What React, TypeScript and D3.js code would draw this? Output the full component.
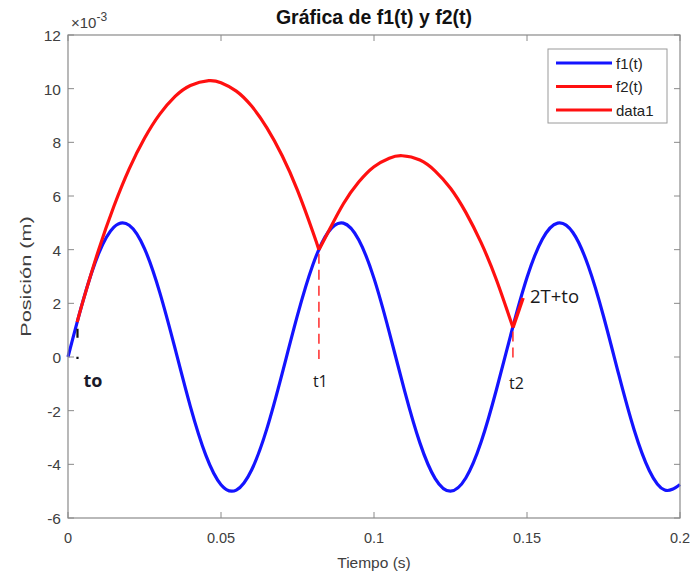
import React from 'react'
import * as d3 from 'd3'

// values in units of 1e-3 m
const f1T = [0, 0.005, 0.01, 0.015, 0.02, 0.025, 0.03, 0.035, 0.04, 0.045, 0.05, 0.055, 0.06, 0.065, 0.07,
  0.075, 0.08, 0.085, 0.09, 0.095, 0.1, 0.105, 0.11, 0.115, 0.12, 0.125, 0.13, 0.135, 0.14, 0.145, 0.15,
  0.155, 0.16, 0.165, 0.17, 0.175, 0.18, 0.185, 0.19, 0.195, 0.2]
const f1Y = [0, 2.13, 3.85, 4.84, 4.91, 4.04, 2.4, 0.31, -1.85, -3.65, -4.76, -4.96, -4.21, -2.67, -0.61,
  1.56, 3.43, 4.65, 4.99, 4.37, 2.93, 0.92, -1.26, -3.2, -4.53, -5.0, -4.51, -3.17, -1.22, 0.96, 2.96,
  4.39, 4.99, 4.64, 3.4, 1.52, -0.66, -2.71, -4.24, -4.96, -4.75]

const f2T = [0.003, 0.005, 0.01, 0.015, 0.02, 0.025, 0.03, 0.035, 0.04, 0.046, 0.05, 0.055, 0.06, 0.065, 0.07, 0.075, 0.08, 0.082,
  0.085, 0.09, 0.095, 0.1, 0.105, 0.1092, 0.115, 0.12, 0.125, 0.13, 0.135, 0.14, 0.1454]
const f2Y = [1.3, 2.12, 3.99, 5.62, 7.01, 8.15, 9.05, 9.71, 10.12, 10.3, 10.22, 9.91, 9.35, 8.54, 7.5, 6.21, 4.67, 4.0,
  4.65, 5.71, 6.52, 7.09, 7.41, 7.5, 7.34, 6.93, 6.29, 5.39, 4.26, 2.88, 1.1]

const data1T = [0.1454, 0.1487]
const data1Y = [1.1, 2.2]

const xTicks = [0, 0.05, 0.1, 0.15, 0.2]
const xTickLabels = ['0', '0.05', '0.1', '0.15', '0.2']
const yTicks = [-6, -4, -2, 0, 2, 4, 6, 8, 10, 12]

const marks = [
  { name: 'to', t: 0.0031, top: 1.2 },
  { name: 't1', t: 0.082, top: 4.0 },
  { name: 't2', t: 0.1454, top: 1.1 }
]

const legendItems = [
  { label: 'f1(t)', color: '#1414ff' },
  { label: 'f2(t)', color: '#ff1010' },
  { label: 'data1', color: '#ff1010' }
]

export default function App() {
  const W = 694, H = 580
  const left = 68, right = 680, top = 35, bottom = 518
  const x = d3.scaleLinear().domain([0, 0.2]).range([left, right])
  const y = d3.scaleLinear().domain([-6, 12]).range([bottom, top])

  const line = d3.line<[number, number]>()
    .x(d => x(d[0]))
    .y(d => y(d[1]))
    .curve(d3.curveNatural)

  const f1 = f1T.map((t, i) => [t, f1Y[i]] as [number, number])
  const arc1 = f2T.slice(0, 18).map((t, i) => [t, f2Y[i]] as [number, number])
  const arc2 = f2T.slice(17).map((t, i) => [t, f2Y[i + 17]] as [number, number])
  const d1 = data1T.map((t, i) => [t, data1Y[i]] as [number, number])

  const axisColor = '#8a8a8a'
  const textColor = '#404040'
  const font = 'Liberation Sans, Arial, sans-serif'
  const annFont = 'Open Sans, sans-serif'

  return (
    <svg width={W} height={H} style={{ position: 'absolute', left: 0, top: 0, background: '#fff' }}>
      <rect x={0} y={0} width={W} height={H} fill="#fff" />

      {/* curves */}
      <path d={line(f1) || ''} fill="none" stroke="#1414ff" strokeWidth={3.2} />
      <path d={line(arc1) || ''} fill="none" stroke="#ff1010" strokeWidth={3.2} />
      <path d={line(arc2) || ''} fill="none" stroke="#ff1010" strokeWidth={3.2} />
      <path d={d3.line<[number, number]>().x(d => x(d[0])).y(d => y(d[1]))(d1) || ''}
        fill="none" stroke="#ff1010" strokeWidth={3.6} />

      {/* dashed markers */}
      {marks.map(m => (
        <line key={m.name} x1={x(m.t)} x2={x(m.t)} y1={y(m.top) + 4} y2={y(0) + 2}
          stroke={m.name === 'to' ? '#111' : '#ff2a2a'}
          strokeWidth={m.name === 'to' ? 2.2 : 1.5}
          strokeDasharray={m.name === 'to' ? '9,19' : '10,6'} />
      ))}

      {/* annotations */}
      <text x={x(0.0031) + 6} y={y(0) + 30} fontFamily={annFont} fontWeight="bold"
        fontSize={18} fill="#1a1a2a">to</text>
      <text x={x(0.082) - 6} y={y(0) + 30} fontFamily={annFont} fontSize={16} fill="#1a1a1a">t1</text>
      <text x={x(0.1454) - 4} y={y(0) + 32} fontFamily={annFont} fontSize={16} fill="#1a1a1a">t2</text>
      <text x={x(0.1487) + 7} y={y(2.2) + 5} fontFamily={annFont} fontSize={18.5} fill="#1a1a1a">2T+to</text>

      {/* box */}
      <rect x={left} y={top} width={right - left} height={bottom - top} fill="none" stroke={axisColor} strokeWidth={1.2} />
      {xTicks.map((t, i) => (
        <g key={'x' + i}>
          <line x1={x(t)} x2={x(t)} y1={bottom} y2={bottom - 6} stroke={axisColor} />
          <line x1={x(t)} x2={x(t)} y1={top} y2={top + 6} stroke={axisColor} />
          <text x={x(t)} y={bottom + 25} textAnchor="middle" fontFamily={font} fontSize={14.5} fill={textColor}>
            {xTickLabels[i]}
          </text>
        </g>
      ))}
      {yTicks.map((v, i) => (
        <g key={'y' + i}>
          <line x1={left} x2={left + 6} y1={y(v)} y2={y(v)} stroke={axisColor} />
          <line x1={right} x2={right - 6} y1={y(v)} y2={y(v)} stroke={axisColor} />
          <text x={left - 7} y={y(v) + 6} textAnchor="end" fontFamily={font} fontSize={15.5} fill={textColor}>
            {v}
          </text>
        </g>
      ))}

      {/* exponent */}
      <text x={left + 3} y={top - 7} fontFamily={font} fontSize={15} fill={textColor}>
        ×10<tspan dy={-7} fontSize={12}>-3</tspan>
      </text>

      {/* title & labels */}
      <text x={(left + right) / 2} y={top - 11} textAnchor="middle" fontFamily={font} fontWeight="bold"
        fontSize={19.5} fill="#111">Gráfica de f1(t) y f2(t)</text>
      <text x={(left + right) / 2} y={bottom + 50} textAnchor="middle" fontFamily={font} fontSize={15.5}
        fill={textColor}>Tiempo (s)</text>
      <text transform={`translate(31, ${(top + bottom) / 2}) rotate(-90) scale(1.4, 1)`} textAnchor="middle"
        fontFamily={font} fontSize={15.5} fill={textColor}>Posición (m)</text>

      {/* legend */}
      <rect x={548} y={49} width={119} height={74} fill="#fff" stroke="#9a9a9a" strokeWidth={1} />
      {legendItems.map((it, i) => (
        <g key={it.label}>
          <line x1={556} x2={612} y1={63 + i * 23.5} y2={63 + i * 23.5} stroke={it.color} strokeWidth={3.2} />
          <text x={616} y={68.5 + i * 23.5} fontFamily={font} fontSize={15} fill="#222">{it.label}</text>
        </g>
      ))}
    </svg>
  )
}
